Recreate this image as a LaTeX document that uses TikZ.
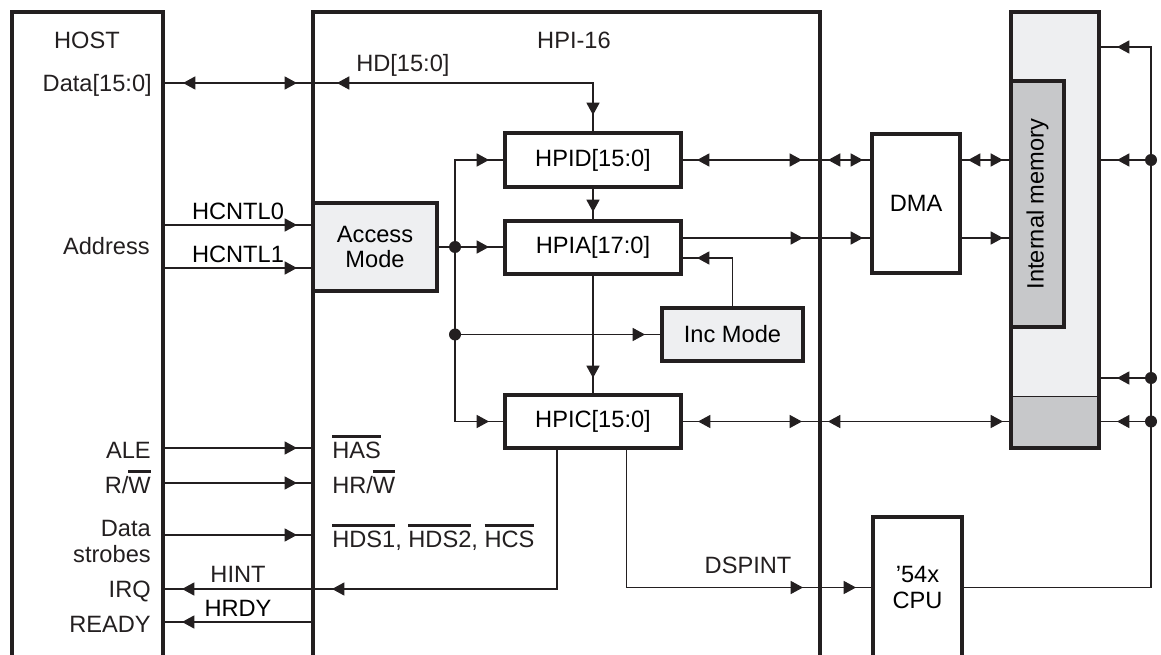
\documentclass[tikz,border=0pt]{standalone}
\usepackage{fontspec}
\setmainfont{Liberation Sans}
\usepackage{xcolor}
\usepackage{tikz}
\usetikzlibrary{arrows.meta,decorations.markings}
\definecolor{hpiink}{RGB}{35,31,32}
\definecolor{hpilight}{RGB}{238,239,241}
\definecolor{hpigray}{RGB}{199,200,202}

% active-low signal names
\newcommand{\ovl}[1]{\vbox{\hrule height 2.3pt\kern 2.6pt\hbox{#1}}}

\begin{document}
\begin{tikzpicture}[
    x=0.025cm,
    y=-0.025cm,
    >={Triangle[length=3.1mm,width=3.3mm]},
    font=\fontsize{16.8}{18.4}\selectfont,
    frame/.style={draw=hpiink, line width=2.35pt, outer sep=0pt},
    block/.style={frame, fill=white, align=center},
    wire/.style={draw=hpiink, line width=0.75pt},
    fw/.style={postaction={decorate,decoration={markings,mark=at position #1 with {\arrow{>}}}}},
    bw/.style={postaction={decorate,decoration={markings,mark=at position #1 with {\arrowreversed{>}}}}},
    dot/.style={circle, fill=hpiink, inner sep=0pt, minimum size=3mm},
    lbl/.style={inner sep=0pt, text=hpiink}
]

\useasboundingbox (0,0) rectangle (1161,655);
\clip (0,0) rectangle (1161,655);

% Rows and columns of the buses
\coordinate (yd) at (0,83);
\coordinate (yc0) at (0,225);
\coordinate (yc1) at (0,268);
\coordinate (ya1) at (0,238);
\coordinate (ya2) at (0,258);
\coordinate (yale) at (0,448);
\coordinate (yrw) at (0,483);
\coordinate (yds) at (0,535);
\coordinate (yirq) at (0,589);
\coordinate (yrdy) at (0,622);
\coordinate (ytop) at (0,47);
\coordinate (ymid) at (0,378);
\coordinate (xh) at (557,0);
\coordinate (xd) at (626.5,0);
\coordinate (xb) at (1151,0);

% Main boxes
\node[frame, minimum width=3.775cm, minimum height=17.2cm] (host) at (87.5,356) {};
\node[frame, minimum width=12.675cm, minimum height=17.2cm] (hpi) at (566.5,356) {};

\node[block, fill=hpilight, minimum width=3.1cm, minimum height=2.2cm] (am) at (375,247) {Access\\Mode};
\node[block, minimum width=4.4cm, minimum height=1.35cm] (hpid) at (593,160) {HPID[15:0]};
\node[block, minimum width=4.4cm, minimum height=1.325cm] (hpia) at (593,247.5) {HPIA[17:0]};
\node[block, fill=hpilight, minimum width=3.525cm, minimum height=1.325cm] (inc) at (732.5,334.5) {Inc Mode};
\node[block, minimum width=4.4cm, minimum height=1.325cm] (hpic) at (593,421.5) {HPIC[15:0]};
\node[block, minimum width=2.2cm, minimum height=3.475cm] (dma) at (916,203.5) {DMA};
\node[block, minimum width=2.225cm, minimum height=3.525cm] (cpu) at (917.5,587.5) {'54x\\CPU};

% Memory
\node[fill=hpilight, outer sep=0pt, minimum width=2.2cm, minimum height=10.9cm] (mem) at (1055,230) {};
\fill[hpigray] (mem.south west) rectangle ([yshift=1.3cm]mem.south east);
\draw[wire] ([yshift=1.3cm]mem.south west) -- ([yshift=1.3cm]mem.south east);
\draw[frame] (mem.south west) rectangle (mem.north east);
\node[block, fill=hpigray, rotate=90, minimum width=6.15cm, minimum height=1.325cm] (imem) at (1037.5,204) {Internal memory};

% Labels
\node[lbl, anchor=base] (lhost) at (87,49) {HOST};
\node[lbl, anchor=base] (lhpi) at (574,49) {HPI-16};
\node[lbl, anchor=base east] (ldata) at (152,92) {Data[15:0]};
\node[lbl, anchor=base west] (lhd) at (356,72) {HD[15:0]};
\node[lbl, anchor=base east] (laddr) at (150,255) {Address};
\node[lbl, anchor=base east] (lale) at (151,458) {ALE};
\node[lbl, anchor=base east] (lrw) at (151,493) {R/\ovl{W}};
\node[lbl, anchor=east, align=right] (lstb) at (151,541.5) {Data\\strobes};
\node[lbl, anchor=base east] (lirq) at (151,597) {IRQ};
\node[lbl, anchor=base east] (lready) at (151,632) {READY};
\node[lbl, anchor=base west] (lhas) at (332,458) {\ovl{HAS}};
\node[lbl, anchor=base west] (lhrw) at (332,493) {HR/\ovl{W}};
\node[lbl, anchor=base west] (lhds) at (332,547) {\ovl{HDS1}, \ovl{HDS2}, \ovl{HCS}};
\node[lbl, anchor=base] (lhint) at (238,582) {HINT};
\node[lbl, anchor=base] (ldsp) at (748,573) {DSPINT};

% Host interface
\draw[wire, bw=0.5cm, fw=-0.4cm] (host.east |- yd) -- (hpi.west |- yd);
\draw[wire, bw=0.6cm, fw=-0.45cm] (hpi.west |- yd) -| (hpid.north);
\draw[wire, fw=-0.4cm] (host.east |- yc0) -- node[above] (lc0) {HCNTL0} (am.west |- yc0);
\draw[wire, fw=-0.4cm] (host.east |- yc1) -- node[above] (lc1) {HCNTL1} (am.west |- yc1);
\draw[wire, fw=-0.4cm] (host.east |- yale) -- (hpi.west |- yale);
\draw[wire, fw=-0.4cm] (host.east |- yrw) -- (hpi.west |- yrw);
\draw[wire, fw=-0.4cm] (host.east |- yds) -- (hpi.west |- yds);
\draw[wire, fw=-4.225cm, fw=-0.475cm] (hpic.south -| xh) |- (host.east |- yirq);
\draw[wire, fw=-0.475cm] (hpi.west |- yrdy) -- node[above] (lrdy) {HRDY} (host.east |- yrdy);

% Access mode bus
\node[dot] (ja) at (455,247) {};
\node[dot] (jb) at (ja |- inc.west) {};
\draw[wire, fw=-0.4cm] (am.east) -- (hpia.west |- am.east);
\draw[wire, fw=-0.4cm] (ja.center) |- (hpid.west);
\draw[wire, fw=-0.4cm] (ja.center) |- (hpic.west);
\draw[wire, fw=-0.425cm] (jb.center) -- (inc.west);

% Registers
\draw[wire, fw=-0.225cm] (hpid.south) -- (hpia.north);
\draw[wire, fw=-0.425cm] (hpia.south) -- (hpic.north);
\draw[wire, fw=-0.4cm] (inc.north) |- (hpia.east |- ya2);

% To DMA and memory
\draw[wire, bw=0.4cm, fw=-1.75cm, bw=-1.1cm, fw=-0.225cm] (hpid.east) -- (dma.west |- hpid.east);
\draw[wire, bw=0.2cm, fw=-0.2cm] (dma.east |- hpid.east) -- (mem.west |- hpid.east);
\draw[wire, fw=-1.725cm, fw=-0.225cm] (hpia.east |- ya1) -- (dma.west |- ya1);
\draw[wire, fw=-0.2cm] (dma.east |- ya1) -- (mem.west |- ya1);
\draw[wire, bw=0.425cm, fw=-5.225cm, bw=-4.575cm, fw=-0.2cm] (hpic.east) -- (mem.west |- hpic.east);

% CPU side
\draw[wire, fw=-1.75cm, fw=-0.425cm] (hpic.south -| xd) |- (cpu.west);
\draw[wire, fw=-0.45cm] (cpu.east) -| (xb |- ytop) -- (mem.east |- ytop);
\node[dot] (b1) at (xb |- hpid.east) {};
\node[dot] (b2) at (xb |- ymid) {};
\node[dot] (b3) at (xb |- hpic.east) {};
\draw[wire, fw=-0.45cm] (b1.center) -- (mem.east |- b1);
\draw[wire, fw=-0.45cm] (b2.center) -- (mem.east |- b2);
\draw[wire, fw=-0.45cm] (b3.center) -- (mem.east |- b3);
\end{tikzpicture}
\end{document}
